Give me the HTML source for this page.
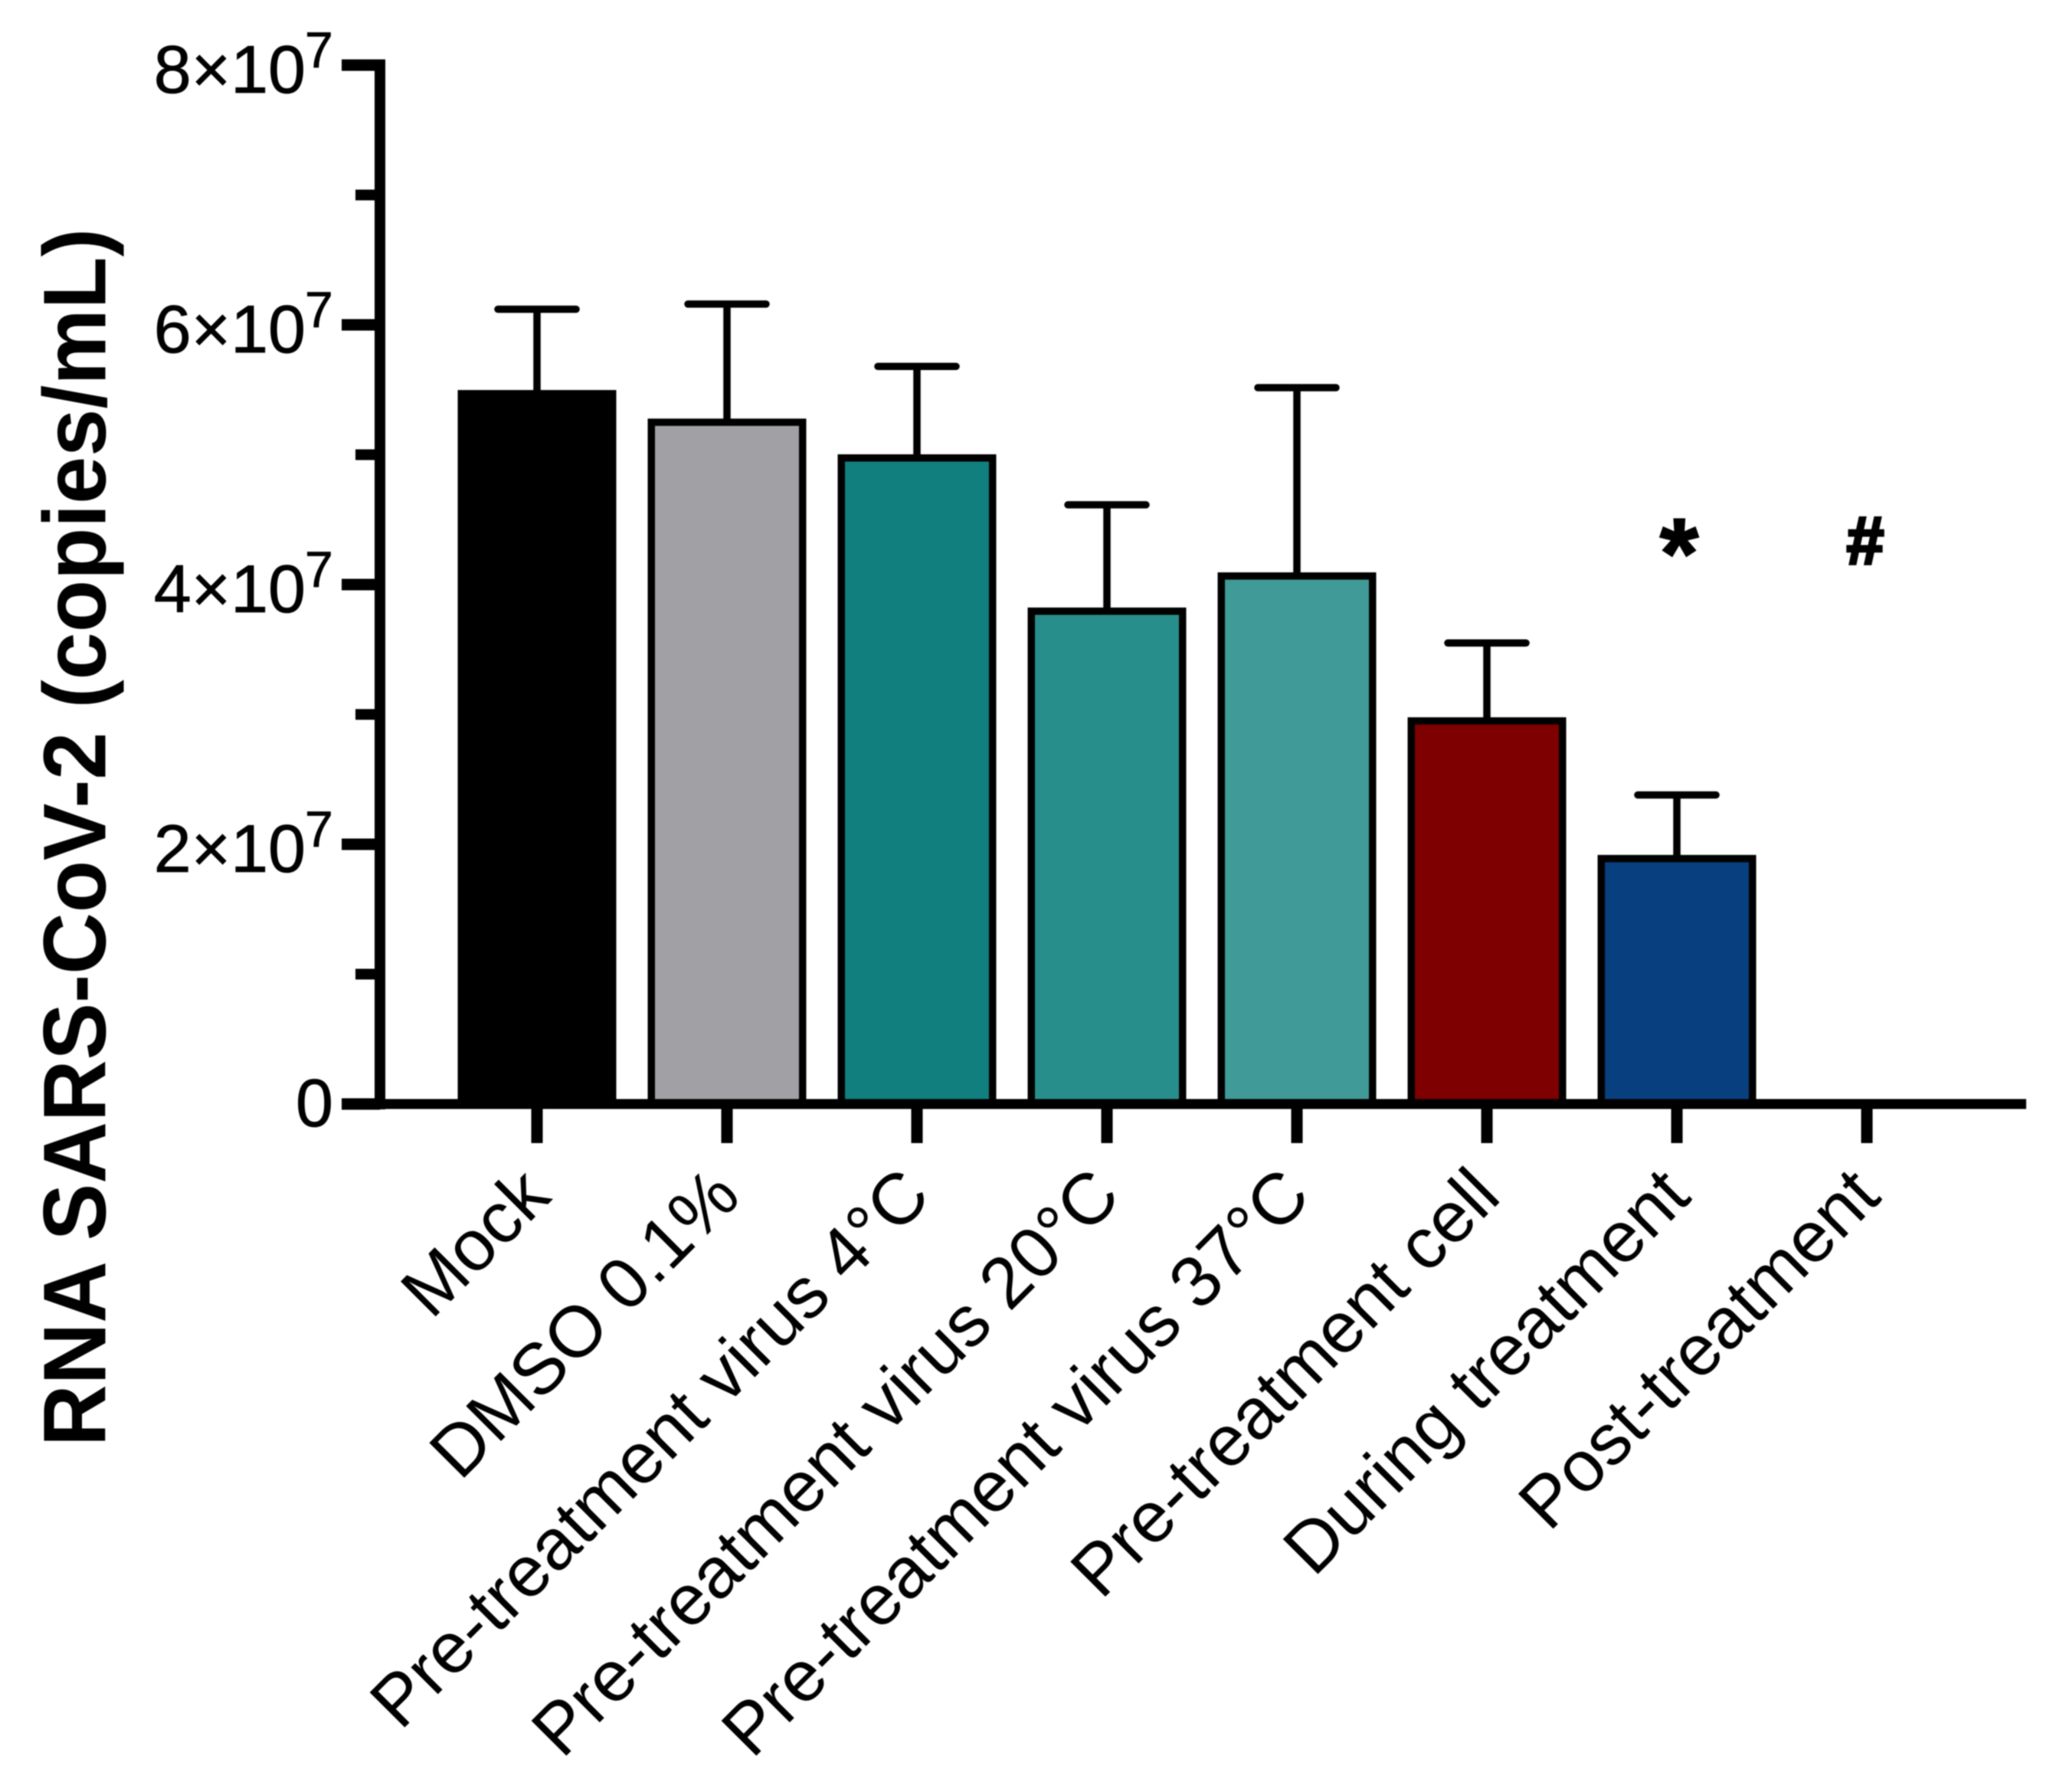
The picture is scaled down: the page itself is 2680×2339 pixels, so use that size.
<!DOCTYPE html>
<html lang="en">
<head>
<meta charset="utf-8">
<title>RNA SARS-CoV-2 bar chart</title>
<style>
html,body{margin:0;padding:0;background:#fff;width:2680px;height:2339px;overflow:hidden}
svg{display:block;font-family:"Liberation Sans",Arial,sans-serif;filter:blur(0.7px)}
</style>
</head>
<body>
<svg id="chart" xmlns="http://www.w3.org/2000/svg" width="2680" height="2339" viewBox="0 0 2680 2339"></svg>
<script>
const categories = ["Mock","DMSO 0.1%","Pre-treatment virus 4°C","Pre-treatment virus 20°C","Pre-treatment virus 37°C","Pre-treatment cell","During treatment","Post-treatment"];
const means = [5.47e7,5.25e7,4.975e7,3.795e7,4.066e7,2.95e7,1.89e7,0];
const errorTops = [6.12e7,6.16e7,5.68e7,4.614e7,5.516e7,3.55e7,2.38e7,0];
const barColors = ["#000000","#a1a0a5","#127f7f","#288e8b","#409a98","#7f0000","#083f7f","#ffffff"];
const majorTicks = [0,2e7,4e7,6e7,8e7];
const minorTicks = [1e7,3e7,5e7,7e7];
const majorMantissas = ["0","2","4","6","8"];
const significance = ["","","","","","","*","#"];

const NS = "http://www.w3.org/2000/svg";
const svg = document.getElementById("chart");
const yScale = v => 1441 - (v / 8e7) * (1441 - 85);
const xScale = i => 701 + i * 248;
const axisX = 496;
function make(tag, attrs, text) {
  const el = document.createElementNS(NS, tag);
  for (const k in attrs) el.setAttribute(k, attrs[k]);
  if (text !== undefined) el.textContent = text;
  svg.appendChild(el);
  return el;
}

categories.forEach((c, i) => {
  if (means[i] <= 0) return;
  const cx = xScale(i);
  const stem = make("line", {x1:cx, x2:cx, y1:yScale(means[i]), y2:yScale(errorTops[i]), stroke:"#000", "stroke-width":9.5});
  
  
  const cap = make("line", {x1:cx-51, x2:cx+51, y1:yScale(errorTops[i]), y2:yScale(errorTops[i]), stroke:"#000", "stroke-width":9.5, "stroke-linecap":"round"});
  
  
  const bar = make("rect", {x:cx-98.75, width:197.5, y:yScale(means[i]), height:yScale(0)-yScale(means[i]), fill:barColors[i], stroke:"#000", "stroke-width":9.5});
  
  
});

const yAxis = make("line", {x1:axisX, x2:axisX, y1:yScale(8e7)-7.5, y2:yScale(0)+7, stroke:"#000", "stroke-width":14});


const xAxis = make("line", {x1:446, x2:2645, y1:yScale(0), y2:yScale(0), stroke:"#000", "stroke-width":13});



majorTicks.forEach((v, i) => {
  const y = yScale(v);
  const tick = make("line", {x1:446, x2:axisX, y1:y, y2:y, stroke:"#000", "stroke-width":15});
  
  
  const isZero = v === 0;
  const label = make("text", {x:isZero ? 435 : 399, y:y + (isZero ? 29 : 36), "text-anchor":"end", "font-size":88, fill:"#000", stroke:"#000", "stroke-width":0.8}, isZero ? majorMantissas[i] : majorMantissas[i] + "×10");
  
  
  if (!isZero) {
    const exp = make("text", {x:398, y:y + 3, "font-size":66, fill:"#000", stroke:"#000", "stroke-width":0.8}, "7");
    
    
  }
});
minorTicks.forEach(v => {
  const y = yScale(v);
  const tick = make("line", {x1:464, x2:axisX, y1:y, y2:y, stroke:"#000", "stroke-width":14});
  
  
});

categories.forEach((c, i) => {
  const cx = xScale(i);
  const tick = make("line", {x1:cx, x2:cx, y1:yScale(0), y2:1492, stroke:"#000", "stroke-width":15});
  
  
  const lx = cx + 21, ly = 1565;
  const label = make("text", {x:lx, y:ly, "text-anchor":"end", "font-size":94, fill:"#000", transform:"rotate(-45 " + lx + " " + ly + ")"}, c);
  
  
  if (significance[i]) {
    const isStar = significance[i] === "*";
    const mark = make("text", {x:cx + (isStar ? 3 : -2), y:isStar ? 767 : 736, "text-anchor":"middle", "font-size":isStar ? 130 : 88, "font-weight":"bold", fill:"#000", stroke:"#000", "stroke-width":isStar ? 2 : 3.5}, significance[i]);
    
    
  }
});

const title = make("text", {x:137.5, y:1888, "font-size":116, "font-weight":"bold", fill:"#000", textLength:1590, lengthAdjust:"spacingAndGlyphs", transform:"rotate(-90 137.5 1888)"}, "RNA SARS-CoV-2 (copies/mL)");


</script>
</body>
</html>
